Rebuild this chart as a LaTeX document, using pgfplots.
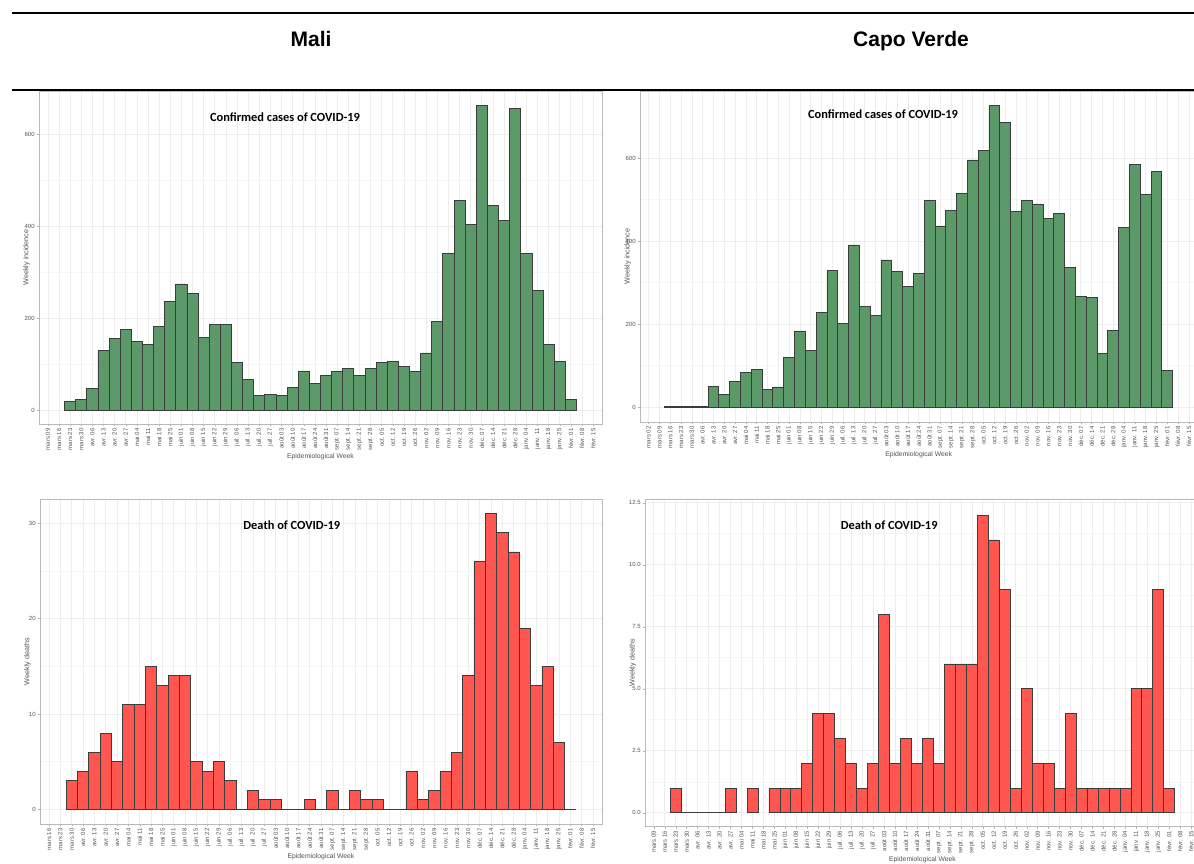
\documentclass[border=0pt]{standalone}
\usepackage{pgfplots}
\pgfplotsset{compat=1.18}
\usepackage{fontspec}
\setmainfont{Liberation Sans}
\newfontfamily\titlefont{Carlito}

\definecolor{casegreen}{HTML}{5B9A68}
\definecolor{deathred}{HTML}{FF574F}
\definecolor{barline}{HTML}{3C3C3C}

\newcommand\ticksize{\fontsize{3}{3.5}\selectfont}
% weekly labels, 1 = week of 2 March 2020
\newcommand\wk[1]{\ifcase#1\or mars 02\or mars 09\or mars 16\or mars 23\or mars 30\or avr. 06\or avr. 13\or avr. 20\or avr. 27\or mai 04\or mai 11\or mai 18\or mai 25\or juin 01\or juin 08\or juin 15\or juin 22\or juin 29\or juil. 06\or juil. 13\or juil. 20\or juil. 27\or août 03\or août 10\or août 17\or août 24\or août 31\or sept. 07\or sept. 14\or sept. 21\or sept. 28\or oct. 05\or oct. 12\or oct. 19\or oct. 26\or nov. 02\or nov. 09\or nov. 16\or nov. 23\or nov. 30\or déc. 07\or déc. 14\or déc. 21\or déc. 28\or janv. 04\or janv. 11\or janv. 18\or janv. 25\or févr. 01\or févr. 08\or févr. 15\or févr. 22\fi}

\pgfplotsset{
  weekly/.style={
    scale only axis,
    anchor=south west,
    xmax=51.8,
    ybar, bar width=1,
    axis line style={gray!55},
    tick align=outside,
    xtick pos=bottom, ytick pos=left,
    major tick length=1.2pt,
    minor tick length=0pt,
    tick style={gray!60},
    xtick={1,...,52},
    xticklabel={\pgfmathtruncatemacro\wi{round(\tick)}\wk{\wi}},
    xticklabel style={rotate=90, anchor=east, font=\ticksize, text=gray!65!black, inner sep=0.8pt},
    yticklabel style={font=\ticksize, text=gray!65!black, inner sep=0.8pt},
    /pgf/number format/assume math mode=true,
    minor y tick num=1,
    xmajorgrids, ymajorgrids, yminorgrids,
    major grid style={gray!14, line width=0.35pt},
    minor grid style={gray!7, line width=0.3pt},
    xlabel={Epidemiological Week},
    x label style={at={(axis description cs:0.5,0)}, yshift=-16.5pt, anchor=center, font=\fontsize{3.4}{4}\selectfont, text=gray!65!black},
    y label style={at={(axis description cs:-0.022,0.5)}, anchor=center, font=\fontsize{3.6}{4}\selectfont, text=gray!65!black},
  },
}
\tikzset{paneltitle/.style={font=\titlefont\bfseries\fontsize{6.2}{7}\selectfont}}

\begin{document}
\begin{tikzpicture}
\useasboundingbox (0,0) rectangle (597pt,431.5pt);
\clip (0,0) rectangle (597pt,431.5pt);

\draw[line width=1pt] (6pt,425pt) -- (597pt,425pt);
\draw[line width=0.8pt] (6pt,386.5pt) -- (597pt,386.5pt);
\node[font=\bfseries\fontsize{10.5}{12}\selectfont, anchor=base] at (155.5pt,408pt) {Mali};
\node[font=\bfseries\fontsize{10.5}{12}\selectfont, anchor=base] at (455.5pt,408pt) {Capo Verde};

% Mali, confirmed cases
\begin{axis}[weekly, at={(19.5pt,219.5pt)}, width=281.5pt, height=166.5pt,
  xmin=1.2, ymin=-30.4, ymax=693.5, ytick={0,200,400,600},
  ylabel={Weekly incidence}]
\addplot[fill=casegreen, draw=barline, line width=0.4pt] coordinates {
(4,18)(5,22)(6,47)(7,129)(8,156)(9,175)(10,150)(11,143)(12,181)(13,236)
(14,274)(15,254)(16,158)(17,186)(18,186)(19,103)(20,67)(21,31)(22,33)(23,31)
(24,49)(25,85)(26,58)(27,76)(28,83)(29,90)(30,75)(31,90)(32,103)(33,106)
(34,95)(35,83)(36,124)(37,193)(38,340)(39,456)(40,404)(41,662)(42,445)(43,412)
(44,656)(45,340)(46,260)(47,143)(48,105)(49,22)};
\node[paneltitle] at (rel axis cs:0.437,0.92) {Confirmed cases of COVID-19};
\end{axis}

% Capo Verde, confirmed cases
\begin{axis}[weekly, at={(320pt,220.5pt)}, width=278.75pt, height=165.5pt,
  xmin=0.2, ymin=-35.4, ymax=762, ytick={0,200,400,600},
  ylabel={Weekly incidence}]
\addplot[fill=casegreen, draw=barline, line width=0.4pt] coordinates {
(3,3)(4,2)(5,2)(6,1)(7,50)(8,32)(9,62)(10,84)(11,92)(12,43)
(13,49)(14,120)(15,184)(16,137)(17,228)(18,330)(19,201)(20,391)(21,244)(22,222)
(23,355)(24,328)(25,292)(26,323)(27,498)(28,437)(29,475)(30,516)(31,596)(32,618)
(33,727)(34,686)(35,471)(36,498)(37,490)(38,456)(39,466)(40,337)(41,266)(42,265)
(43,130)(44,185)(45,434)(46,586)(47,513)(48,568)(49,88)};
\node[paneltitle] at (rel axis cs:0.436,0.93) {Confirmed cases of COVID-19};
\end{axis}

% Mali, deaths
\begin{axis}[weekly, at={(20pt,19.5pt)}, width=281pt, height=162.5pt,
  xmin=2.2, ymin=-1.54, ymax=32.55, ytick={0,10,20,30},
  ylabel={Weekly deaths}]
\addplot[fill=deathred, draw=barline, line width=0.4pt] coordinates {
(5,3)(6,4)(7,6)(8,8)(9,5)(10,11)(11,11)(12,15)(13,13)(14,14)
(15,14)(16,5)(17,4)(18,5)(19,3)(20,0)(21,2)(22,1)(23,1)(24,0)
(25,0)(26,1)(27,0)(28,2)(29,0)(30,2)(31,1)(32,1)(33,0)(34,0)
(35,4)(36,1)(37,2)(38,4)(39,6)(40,14)(41,26)(42,31)(43,29)(44,27)
(45,19)(46,13)(47,15)(48,7)(49,0)};
\node[paneltitle] at (rel axis cs:0.448,0.92) {Death of COVID-19};
\end{axis}

% Capo Verde, deaths
\begin{axis}[weekly, at={(322.5pt,18.15pt)}, width=277.5pt, height=163.85pt,
  xmin=1.2, ymin=-0.56, ymax=12.65, ytick={0,2.5,5,7.5,10,12.5},
  yticklabel style={/pgf/number format/.cd, fixed, fixed zerofill, precision=1},
  ylabel={Weekly deaths}]
\addplot[fill=deathred, draw=barline, line width=0.4pt] coordinates {
(4,1)(5,0)(6,0)(7,0)(8,0)(9,1)(11,1)(13,1)(14,1)(15,1)
(16,2)(17,4)(18,4)(19,3)(20,2)(21,1)(22,2)(23,8)(24,2)(25,3)
(26,2)(27,3)(28,2)(29,6)(30,6)(31,6)(32,12)(33,11)(34,9)(35,1)
(36,5)(37,2)(38,2)(39,1)(40,4)(41,1)(42,1)(43,1)(44,1)(45,1)
(46,5)(47,5)(48,9)(49,1)};
\node[paneltitle] at (rel axis cs:0.44,0.92) {Death of COVID-19};
\end{axis}
\end{tikzpicture}
\end{document}
